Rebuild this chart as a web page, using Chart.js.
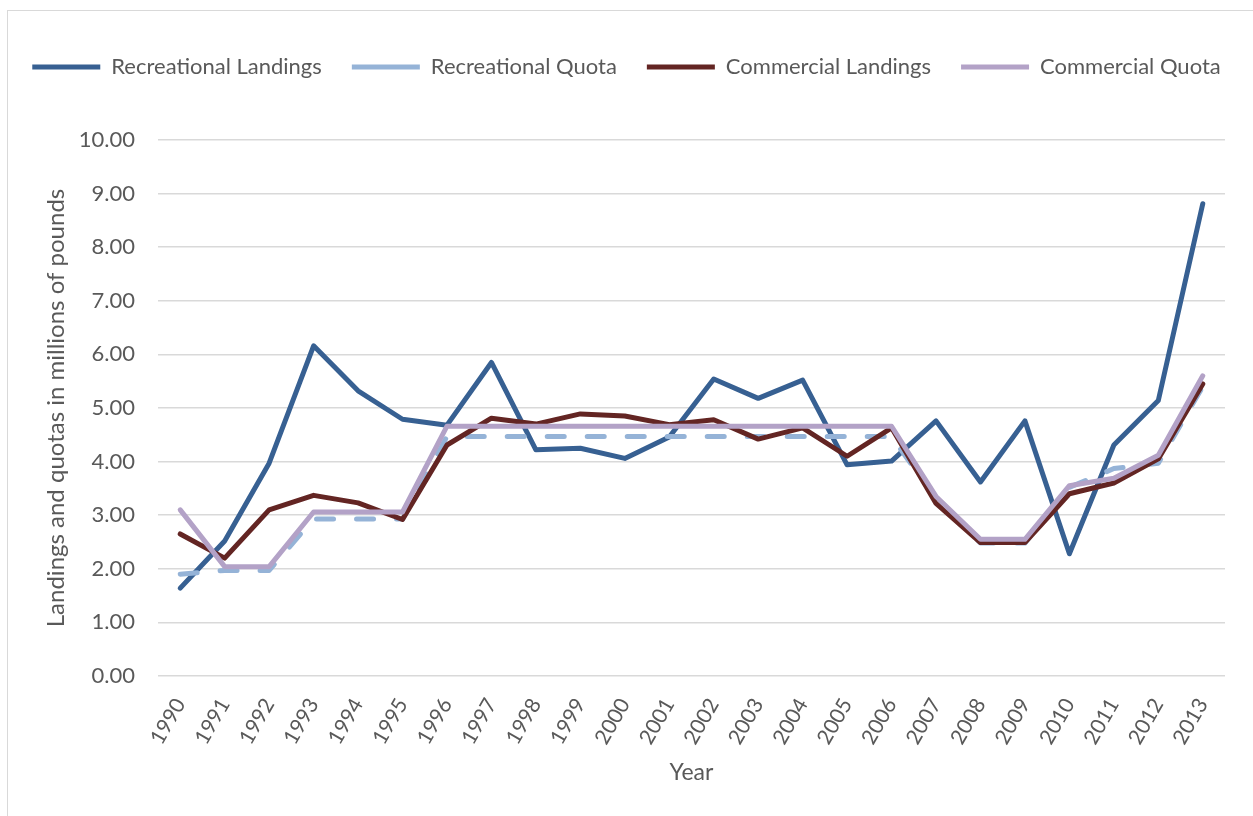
<!DOCTYPE html>
<html>
<head>
<meta charset="utf-8">
<script src="https://cdn.jsdelivr.net/npm/chart.js@4.4.1/dist/chart.umd.min.js"></script>
<style>
  html, body { margin: 0; padding: 0; background: #fff; }
  #wrap { position: relative; width: 1253px; height: 816px; overflow: hidden; }
  #frame { position: absolute; left: 7px; top: 10px; width: 1300px; height: 900px; border: 1px solid #d9d9d9; }
  #chart { position: absolute; left: 0; top: 0; }
</style>
</head>
<body>
<div id="wrap">
  <div id="frame"></div>
  <canvas id="chart" width="1253" height="816"></canvas>
</div>
<script>
const years = ["1990", "1991", "1992", "1993", "1994", "1995", "1996", "1997", "1998", "1999", "2000", "2001",
  "2002", "2003", "2004", "2005", "2006", "2007", "2008", "2009", "2010", "2011", "2012", "2013"];

const recreationalLandings = [1.64, 2.52, 3.97, 6.16, 5.32, 4.79, 4.68, 5.85, 4.22, 4.25, 4.06, 4.46,
  5.54, 5.18, 5.52, 3.94, 4.01, 4.76, 3.62, 4.76, 2.28, 4.31, 5.14, 8.81];
const recreationalQuota = [1.90, 1.97, 1.97, 2.93, 2.93, 2.93, 4.47, 4.47, 4.47, 4.47, 4.47, 4.47,
  4.47, 4.47, 4.47, 4.47, 4.47, 3.30, 2.48, 2.48, 3.52, 3.87, 3.97, 5.40];
const commercialLandings = [2.65, 2.20, 3.10, 3.37, 3.23, 2.92, 4.31, 4.81, 4.70, 4.89, 4.85, 4.69,
  4.78, 4.42, 4.63, 4.10, 4.63, 3.22, 2.49, 2.49, 3.40, 3.60, 4.05, 5.45];
const commercialQuota = [3.10, 2.04, 2.04, 3.06, 3.06, 3.06, 4.66, 4.66, 4.66, 4.66, 4.66, 4.66,
  4.66, 4.66, 4.66, 4.66, 4.66, 3.35, 2.55, 2.55, 3.55, 3.69, 4.12, 5.60];

const textColor = "#595959";
const fontFamily = "Lato, 'Noto Sans', sans-serif";

// push the plot area down below the legend
const legendSpace = {
  id: "legendSpace",
  beforeInit(chart) {
    const fit = chart.legend.fit;
    chart.legend.fit = function () {
      fit.bind(chart.legend)();
      this.height += 52;
    };
  },
};

function line(label, data, color, order, dash) {
  return {
    label: label,
    data: data,
    borderColor: color,
    backgroundColor: color,
    borderWidth: 5,
    borderCapStyle: "round",
    borderJoinStyle: "round",
    borderDash: dash || [],
    pointRadius: 0,
    pointHoverRadius: 0,
    tension: 0,
    fill: false,
    order: order,
  };
}

new Chart(document.getElementById("chart"), {
  type: "line",
  data: {
    labels: years,
    datasets: [
      line("Recreational Landings", recreationalLandings, "#376092", 4),
      line("Recreational Quota", recreationalQuota, "#95b3d7", 3, [17, 23]),
      line("Commercial Landings", commercialLandings, "#632523", 2),
      line("Commercial Quota", commercialQuota, "#b3a2c7", 1),
    ],
  },
  plugins: [legendSpace],
  options: {
    responsive: false,
    animation: false,
    layout: { padding: { left: 0, right: 0, top: 26, bottom: 0 } },
    plugins: {
      tooltip: { enabled: false },
      legend: {
        position: "top",
        labels: {
          usePointStyle: true,
          pointStyle: "line",
          pointStyleWidth: 68,
          padding: 30,
          color: textColor,
          font: { family: fontFamily, size: 22 },
          sort: (a, b) => a.datasetIndex - b.datasetIndex,
        },
      },
    },
    scales: {
      x: {
        offset: true,
        grid: { display: false, drawTicks: false },
        border: { display: false },
        ticks: {
          color: textColor,
          font: { family: fontFamily, size: 21 },
          minRotation: 60,
          maxRotation: 60,
          padding: 18,
          autoSkip: false,
        },
        title: {
          display: true,
          text: "Year",
          color: textColor,
          font: { family: fontFamily, size: 23 },
          padding: { top: 0, bottom: 30 },
        },
        afterFit(scale) { scale.height = 140; },
      },
      y: {
        min: 0,
        max: 10,
        grid: { color: "#d9d9d9", lineWidth: 1.5, drawTicks: false },
        border: { display: false },
        ticks: {
          stepSize: 1,
          color: textColor,
          font: { family: fontFamily, size: 22 },
          padding: 23,
          callback: (v) => Number(v).toFixed(2),
        },
        title: {
          display: true,
          text: "Landings and quotas in millions of pounds",
          color: textColor,
          font: { family: fontFamily, size: 24 },
          padding: { top: 42, bottom: 0 },
        },
        afterFit(scale) { scale.width = 158; },
      },
      // empty right-hand axis, only keeps the margin right of the plot
      yRight: {
        position: "right",
        grid: { display: false, drawTicks: false },
        border: { display: false },
        ticks: { display: false },
        afterFit(scale) { scale.width = 28; },
      },
    },
  },
});
</script>
</body>
</html>
